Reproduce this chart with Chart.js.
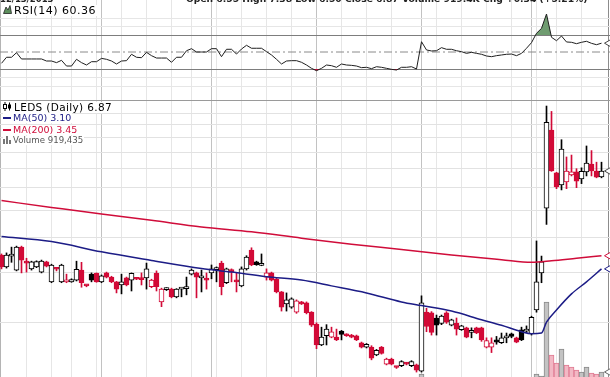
<!DOCTYPE html>
<html>
<head>
<meta charset="utf-8">
<title>LEDS (Daily)</title>
<script src="https://cdn.jsdelivr.net/npm/chart.js@4.4.1/dist/chart.umd.min.js"></script>
<style>
  html, body { margin: 0; padding: 0; background: #fff; }
  #wrap { position: relative; width: 610px; height: 377px; overflow: hidden; font-family: "DejaVu Sans", Verdana, sans-serif; }
  canvas { position: absolute; left: 0; }
  #rsiChart { top: 0; }
  #priceChart { top: 100px; }
  .lbl { position: absolute; left: 3px; background: #fff; white-space: nowrap; line-height: 1; padding-right: 1px; }
  .lbl svg, .lbl i { vertical-align: top; margin-right: 2px; }
  .hdr { position: absolute; top: -7px; font-size: 9.2px; font-weight: bold; color: #222; white-space: nowrap; }
</style>
</head>
<body>
<div id="wrap">
  <canvas id="rsiChart" width="610" height="100"></canvas>
  <canvas id="priceChart" width="610" height="277"></canvas>
  <div class="hdr" style="left:0;font-size:8.5px;top:-6px">12/13/2013</div>
  <div class="hdr" id="hdrQuote" style="left:186px"></div>
  <div class="lbl" id="rsiLbl" style="top:5px;font-size:11px;letter-spacing:.5px;color:#000"></div>
  <div class="lbl" id="priceLbl" style="top:102px;font-size:10.5px;letter-spacing:.35px;color:#000"></div>
  <div class="lbl" id="ma50Lbl" style="top:113px;font-size:9.5px;color:#1c1c86"></div>
  <div class="lbl" id="ma200Lbl" style="top:125px;font-size:9.5px;color:#d00c3a"></div>
  <div class="lbl" id="volLbl" style="top:136px;font-size:8.6px;color:#555"></div>
</div>
<script>
// daily candles, one per trading day (index 0 = oldest)
const opens = [
  3.47, 3.15, 3.44, 3.07, 3.70, 3.30, 3.10, 3.15, 3.02, 3.28,
  2.79, 3.10, 2.79, 2.79, 2.79, 2.83, 3.07, 2.71, 2.97, 2.99,
  2.79, 3.00, 2.90, 2.79, 2.72, 2.88, 2.83, 2.86, 2.86, 2.88,
  2.68, 2.99, 2.37, 2.62, 2.63, 2.47, 2.63, 2.64, 2.97, 3.00,
  2.88, 2.86, 3.00, 3.08, 3.25, 2.77, 3.07, 2.83, 2.70, 3.10,
  3.61, 3.28, 3.19, 2.90, 3.00, 2.85, 2.57, 2.33, 2.27, 2.18,
  2.37, 2.35, 2.18, 1.98, 1.67, 1.80, 1.78, 1.78, 1.87, 1.82,
  1.81, 1.80, 1.70, 1.64, 1.64, 1.54, 1.64, 1.43, 1.49, 1.40,
  1.41, 1.44, 1.41, 1.42, 1.35, 2.18, 2.17, 2.08, 1.99, 2.17,
  1.96, 1.99, 1.89, 1.92, 1.85, 1.92, 1.92, 1.64, 1.64, 1.74,
  1.70, 1.77, 1.83, 1.77, 1.89, 1.87, 1.83, 2.22, 3.00, 5.08,
  9.59, 6.77, 6.13, 6.28, 6.65, 6.82, 6.44, 6.82, 7.27, 6.87, 6.55
];
const highs = [
  3.50, 3.53, 3.70, 3.73, 3.73, 3.38, 3.30, 3.31, 3.33, 3.30,
  3.22, 3.12, 3.22, 2.97, 2.86, 3.30, 3.27, 2.72, 3.00, 3.00,
  2.95, 3.02, 2.92, 2.80, 2.97, 2.90, 3.00, 2.87, 3.00, 3.25,
  2.85, 3.05, 2.65, 2.66, 2.65, 2.64, 2.65, 2.90, 3.10, 3.02,
  3.07, 3.00, 3.20, 3.15, 3.30, 3.12, 3.10, 3.00, 3.15, 3.45,
  3.68, 3.30, 3.50, 3.10, 3.02, 2.87, 2.58, 2.55, 2.45, 2.41,
  2.38, 2.37, 2.19, 2.00, 1.93, 1.97, 1.93, 1.90, 1.88, 1.83,
  1.82, 1.81, 1.71, 1.69, 1.66, 1.61, 1.65, 1.50, 1.50, 1.40,
  1.47, 1.45, 1.47, 1.43, 2.49, 2.25, 2.19, 2.13, 2.13, 2.19,
  2.06, 2.08, 1.96, 1.93, 1.92, 1.93, 1.93, 1.77, 1.77, 1.79,
  1.84, 1.84, 1.84, 1.78, 1.93, 1.95, 2.11, 3.89, 3.44, 11.65,
  11.15, 6.80, 8.86, 7.70, 7.82, 7.00, 7.05, 8.42, 8.11, 7.38, 7.38
];
const lows = [
  3.10, 3.12, 3.27, 3.05, 3.00, 3.02, 3.07, 3.13, 3.00, 3.15,
  2.77, 3.05, 2.77, 2.77, 2.78, 2.81, 2.67, 2.68, 2.79, 2.78,
  2.77, 2.88, 2.77, 2.55, 2.53, 2.70, 2.59, 2.84, 2.72, 2.63,
  2.66, 2.59, 2.28, 2.60, 2.45, 2.45, 2.47, 2.51, 2.95, 2.45,
  2.57, 2.63, 2.86, 2.79, 2.51, 2.75, 2.79, 2.57, 2.68, 3.07,
  3.18, 3.19, 3.18, 2.83, 2.81, 2.55, 2.20, 2.20, 2.25, 2.16,
  2.32, 2.15, 1.94, 1.62, 1.66, 1.67, 1.77, 1.73, 1.74, 1.79,
  1.77, 1.73, 1.63, 1.63, 1.48, 1.53, 1.55, 1.42, 1.42, 1.38,
  1.40, 1.42, 1.40, 1.34, 1.34, 1.86, 1.81, 1.81, 1.97, 1.99,
  1.95, 1.81, 1.88, 1.77, 1.77, 1.83, 1.72, 1.63, 1.57, 1.68,
  1.69, 1.70, 1.77, 1.70, 1.73, 1.85, 1.81, 2.18, 2.77, 4.45,
  6.85, 5.95, 5.89, 5.95, 6.60, 6.00, 6.20, 6.60, 6.60, 6.50, 6.50
];
const closes = [
  3.15, 3.47, 3.48, 3.70, 3.33, 3.25, 3.28, 3.29, 3.30, 3.17,
  3.20, 3.09, 3.20, 2.83, 2.84, 3.09, 2.77, 2.70, 2.83, 2.79,
  2.93, 2.90, 2.79, 2.63, 2.79, 2.72, 2.99, 2.85, 2.84, 3.10,
  2.83, 2.68, 2.63, 2.64, 2.47, 2.63, 2.64, 2.68, 3.07, 2.90,
  2.91, 2.83, 3.10, 3.12, 2.68, 3.10, 3.03, 2.79, 3.10, 3.41,
  3.20, 3.21, 3.22, 3.00, 2.83, 2.57, 2.27, 2.41, 2.43, 2.39,
  2.33, 2.17, 1.96, 1.67, 1.78, 1.90, 1.86, 1.74, 1.82, 1.80,
  1.78, 1.74, 1.64, 1.68, 1.50, 1.60, 1.56, 1.49, 1.43, 1.39,
  1.46, 1.43, 1.46, 1.36, 2.35, 1.94, 1.85, 1.96, 2.11, 2.01,
  2.05, 1.90, 1.95, 1.78, 1.86, 1.84, 1.74, 1.73, 1.70, 1.71,
  1.77, 1.78, 1.79, 1.71, 1.74, 1.89, 2.09, 2.79, 3.28, 10.21,
  6.88, 6.03, 8.21, 6.87, 6.82, 6.33, 6.85, 7.33, 6.88, 6.53, 6.87
];
const volumes = [
  182000, 143000, 121000, 205000, 168000, 97000, 88000, 76000, 132000, 91000,
  154000, 67000, 118000, 102000, 73000, 139000, 161000, 84000, 95000, 78000, 112000,
  69000, 87000, 146000, 121000, 93000, 134000, 58000, 99000, 157000, 104000,
  128000, 173000, 81000, 109000, 96000, 72000, 118000, 141000, 126000, 88000, 79000,
  113000, 92000, 187000, 136000, 83000, 97000, 124000, 168000, 192000, 76000,
  101000, 89000, 117000, 148000, 211000, 129000, 94000, 107000, 71000, 138000, 176000,
  224000, 152000, 119000, 86000, 98000, 77000, 64000, 59000, 91000, 108000,
  82000, 163000, 97000, 114000, 131000, 122000, 88000, 103000, 74000, 92000, 145000,
  690000,
  268000, 214000, 183000, 152000, 139000, 117000, 126000, 98000, 142000, 87000, 109000,
  161000, 134000, 121000, 96000, 112000, 83000, 101000, 127000, 148000, 166000, 290000,
  690000, 460000, 8960000, 2870000, 1950000, 3560000, 1720000,
  1490000, 1150000, 920000, 1490000, 800000, 690000, 919435
];
const rsi = [
  36.7, 43.8, 43.8, 49.2, 41.8, 41.8, 41.8, 41.8, 41.8, 39.4,
  39.4, 37.5, 40.2, 33.5, 33.5, 41.4, 37.5, 34.7, 38.6, 38.6,
  42.5, 41.4, 39.4, 35.9, 39.4, 39.8, 47.3, 43.8, 43.3, 49.6,
  45.7, 42.9, 42.9, 42.9, 37.9, 43.8, 43.8, 51.5, 53.9, 50.0,
  50.0, 50.0, 53.9, 53.9, 44.5, 53.2, 53.2, 47.6, 53.5, 57.9,
  54.4, 54.4, 54.4, 50.4, 46.5, 41.4, 35.9, 39.4, 39.8, 39.8,
  37.9, 34.7, 30.8, 28.0, 30.8, 34.7, 33.9, 32.0, 35.9, 34.7,
  34.3, 33.5, 31.6, 32.0, 30.4, 32.7, 32.0, 30.8, 29.6, 28.8,
  32.0, 32.0, 32.7, 30.0, 62.1, 52.4, 51.2, 51.5, 55.1, 53.2,
  53.2, 51.5, 50.4, 48.4, 49.6, 48.4, 47.3, 45.3, 44.5, 45.7,
  46.5, 47.3, 47.6, 45.7, 48.4, 54.4, 61.0, 72.0, 77.8, 94.7,
  67.3, 63.3, 68.8, 61.8, 61.4, 59.8, 61.4, 62.6, 60.2, 58.6, 60.36
];
// moving averages read at a few days along the line
const ma50Days = [0, 10, 20, 30, 40, 46, 53, 60, 66, 73, 80, 84, 90, 96, 100, 104, 106, 108, 109, 111, 114, 117, 120];
const ma50 = [4.03, 3.87, 3.56, 3.32, 3.11, 3.02, 2.91, 2.83, 2.70, 2.55, 2.37, 2.30, 2.20, 2.05, 1.96, 1.86, 1.83, 1.84, 2.01, 2.22, 2.53, 2.79, 3.10];
const ma200Days = [0, 10, 20, 30, 40, 50, 60, 70, 80, 90, 100, 106, 110, 115, 120];
const ma200 = [5.40, 5.11, 4.84, 4.60, 4.36, 4.19, 3.98, 3.79, 3.63, 3.47, 3.34, 3.27, 3.31, 3.38, 3.45];

const weekLines = [5, 10, 14, 19, 24, 29, 34, 38, 43, 48, 53, 58, 68, 73, 78, 87, 92, 97, 102, 107, 111, 116];
const monthLines = [20, 42, 63, 84, 106];
const priceLevels = [2, 3, 4, 5, 6, 7, 8, 9, 10, 11];
const rsiLevels = [10, 20, 30, 70, 80, 90];

const RED = '#d20a37';
const BLACK = '#000000';
const NAVY = '#1c1c86';
const CRIMSON = '#d00c3a';

const X_MIN = -0.3, X_MAX = 121.7, X_EDGE = 121.4;
const P_MIN = 1.2871, P_MAX = 12.236;
// volume baseline sits just under the bottom edge of the picture
const V_MIN = 344787, V_MAX = 32180120;
const R_MIN = -6.47, R_MAX = 111.18;

const last = closes.length - 1;
const upDay = closes.map((c, i) => (i === 0 ? c >= opens[0] : c >= closes[i - 1]));
const candleColor = upDay.map(u => (u ? BLACK : RED));
const bodyFill = closes.map((c, i) => (c > opens[i] ? '#ffffff' : candleColor[i]));

function dayAxis() {
    return {
        type: 'linear',
        min: X_MIN,
        max: X_MAX,
        offset: false,
        ticks: { display: false },
        border: { display: false },
        grid: {
            offset: false,
            drawTicks: false,
            color: ctx => {
                const v = ctx.tick ? ctx.tick.value : null;
                if (v === X_MIN) return '#b4b4b4';
                if (v === X_EDGE) return '#8c8c8c';
                return monthLines.includes(v) ? '#c2c2c2' : '#e6e6e6';
            }
        },
        afterBuildTicks: axis => {
            axis.ticks = [X_MIN, ...weekLines, ...monthLines, X_EDGE]
                .sort((a, b) => a - b)
                .map(v => ({ value: v }));
        }
    };
}

const baseOptions = {
    responsive: false,
    animation: false,
    devicePixelRatio: 1,
    events: [],
    layout: { padding: 0, autoPadding: false },
    plugins: { legend: { display: false }, tooltip: { enabled: false } }
};

// RSI panel
new Chart(document.getElementById('rsiChart'), {
    type: 'line',
    data: {
        datasets: [
            {
                label: 'marker',
                data: [{ x: X_EDGE, y: rsi[last] }],
                showLine: false,
                pointStyle: 'triangle',
                rotation: -90,
                pointRadius: 4,
                pointHoverRadius: 0,
                pointBackgroundColor: '#fff',
                pointBorderColor: '#444',
                pointBorderWidth: 1
            },
            {
                label: 'RSI(14)',
                data: rsi.map((v, i) => ({ x: i, y: v })),
                borderColor: '#1e1e1e',
                borderWidth: 1,
                pointRadius: 0,
                pointHoverRadius: 0,
                fill: { target: { value: 70 }, above: '#6f9c70', below: 'rgba(0,0,0,0)' }
            },
            {
                label: 'oversold',
                data: rsi.map((v, i) => ({ x: i, y: v })),
                borderColor: 'rgba(0,0,0,0)',
                borderWidth: 0,
                pointRadius: 0,
                pointHoverRadius: 0,
                fill: { target: { value: 30 }, above: 'rgba(0,0,0,0)', below: RED }
            },
            {
                label: 'mid',
                data: [{ x: X_MIN, y: 50 }, { x: X_MAX, y: 50 }],
                borderColor: '#8a8a8a',
                borderWidth: 1,
                borderDash: [8, 3, 2, 3],
                pointRadius: 0,
                pointHoverRadius: 0
            }
        ]
    },
    options: {
        ...baseOptions,
        scales: {
            x: dayAxis(),
            y: {
                type: 'linear',
                min: R_MIN,
                max: R_MAX,
                ticks: { display: false },
                border: { display: false },
                grid: {
                    drawTicks: false,
                    color: ctx => (ctx.tick && (ctx.tick.value === 30 || ctx.tick.value === 70) ? '#7d7d7d' : '#e6e6e6')
                },
                afterBuildTicks: axis => { axis.ticks = rsiLevels.map(v => ({ value: v })); }
            }
        }
    }
});

// price panel
new Chart(document.getElementById('priceChart'), {
    type: 'bar',
    data: {
        datasets: [
            {
                type: 'line',
                label: 'markers',
                data: [
                    { x: X_EDGE, y: closes[last] },
                    { x: X_EDGE, y: ma200[ma200.length - 1] },
                    { x: X_EDGE, y: ma50[ma50.length - 1] }
                ],
                showLine: false,
                pointStyle: 'triangle',
                rotation: -90,
                pointRadius: 4,
                pointHoverRadius: 0,
                pointBackgroundColor: '#fff',
                pointBorderColor: ['#444', CRIMSON, NAVY],
                pointBorderWidth: 1
            },
            {
                type: 'line',
                label: 'volMarker',
                yAxisID: 'yv',
                data: [{ x: X_EDGE, y: volumes[last] }],
                showLine: false,
                pointStyle: 'triangle',
                rotation: -90,
                pointRadius: 4,
                pointHoverRadius: 0,
                pointBackgroundColor: '#fff',
                pointBorderColor: '#666',
                pointBorderWidth: 1
            },
            {
                type: 'line',
                label: 'MA(50)',
                data: ma50Days.map((d, k) => ({ x: d, y: ma50[k] })),
                borderColor: NAVY,
                borderWidth: 1.5,
                pointRadius: 0,
                pointHoverRadius: 0,
                cubicInterpolationMode: 'monotone'
            },
            {
                type: 'line',
                label: 'MA(200)',
                data: ma200Days.map((d, k) => ({ x: d, y: ma200[k] })),
                borderColor: CRIMSON,
                borderWidth: 1.5,
                pointRadius: 0,
                pointHoverRadius: 0,
                cubicInterpolationMode: 'monotone'
            },
            {
                label: 'body',
                data: closes.map((c, i) => ({ x: i, y: [opens[i], c] })),
                backgroundColor: bodyFill,
                borderColor: candleColor,
                borderWidth: 1,
                borderSkipped: false,
                barThickness: 5,
                minBarLength: 2,
                grouped: false
            },
            {
                label: 'wick',
                data: highs.map((h, i) => ({ x: i, y: [lows[i], h] })),
                backgroundColor: candleColor,
                borderWidth: 0,
                barThickness: 1,
                grouped: false
            },
            {
                label: 'Volume',
                yAxisID: 'yv',
                data: volumes.map((v, i) => ({ x: i, y: v })),
                backgroundColor: upDay.map(u => (u ? '#c3c3c3' : '#f2b8c4')),
                borderColor: upDay.map(u => (u ? '#8a8a8a' : '#e07b93')),
                borderWidth: 1,
                barThickness: 5,
                grouped: false
            }
        ]
    },
    options: {
        ...baseOptions,
        scales: {
            x: dayAxis(),
            y: {
                type: 'logarithmic',
                min: P_MIN,
                max: P_MAX,
                ticks: { display: false },
                border: { display: false },
                grid: {
                    drawTicks: false,
                    color: ctx => (ctx.tick && ctx.tick.value === P_MAX ? '#9a9a9a' : '#e2e2e2')
                },
                afterBuildTicks: axis => { axis.ticks = [...priceLevels, P_MAX].map(v => ({ value: v })); }
            },
            yv: { type: 'linear', min: V_MIN, max: V_MAX, display: false }
        }
    }
});

// labels
const chg = closes[last] - closes[last - 1];
document.getElementById('hdrQuote').textContent =
    'Open ' + opens[last].toFixed(2) + ' High ' + highs[last].toFixed(2) + ' Low ' + lows[last].toFixed(2) +
    ' Close ' + closes[last].toFixed(2) + ' Volume ' + (volumes[last] / 1000).toFixed(1) + 'K Chg ' +
    (chg >= 0 ? '+' : '') + chg.toFixed(2) + ' (' + (chg >= 0 ? '+' : '') + (chg / closes[last - 1] * 100).toFixed(2) + '%)';

document.getElementById('rsiLbl').innerHTML =
    '<svg width="9" height="9"><path d="M0.5 8.5 L3 2 L5 5 L7 0.5 L8.5 8.5 Z" fill="#5d8f5d" stroke="#222" stroke-width="0.8"/></svg>' +
    'RSI(14) ' + rsi[last].toFixed(2);
document.getElementById('priceLbl').innerHTML =
    '<svg width="9" height="9"><path d="M2 0V9M6.5 0.5V8.5" stroke="#000" stroke-width="1"/><rect x="0.5" y="2.5" width="3" height="4" fill="#fff" stroke="#000"/><rect x="5" y="2.5" width="3" height="4" fill="#000"/></svg>' +
    'LEDS (Daily) ' + closes[last].toFixed(2);
document.getElementById('ma50Lbl').innerHTML =
    '<i style="display:inline-block;width:8px;height:2px;background:' + NAVY + ';margin-top:4px"></i>MA(50) ' + ma50[ma50.length - 1].toFixed(2);
document.getElementById('ma200Lbl').innerHTML =
    '<i style="display:inline-block;width:8px;height:2px;background:' + CRIMSON + ';margin-top:4px"></i>MA(200) ' + ma200[ma200.length - 1].toFixed(2);
document.getElementById('volLbl').innerHTML =
    '<svg width="8" height="8"><rect x="0" y="3" width="2" height="5" fill="#777"/><rect x="3" y="0" width="2" height="8" fill="#777"/><rect x="6" y="4" width="2" height="4" fill="#777"/></svg>' +
    'Volume ' + volumes[last].toLocaleString('en-US');
</script>
</body>
</html>
